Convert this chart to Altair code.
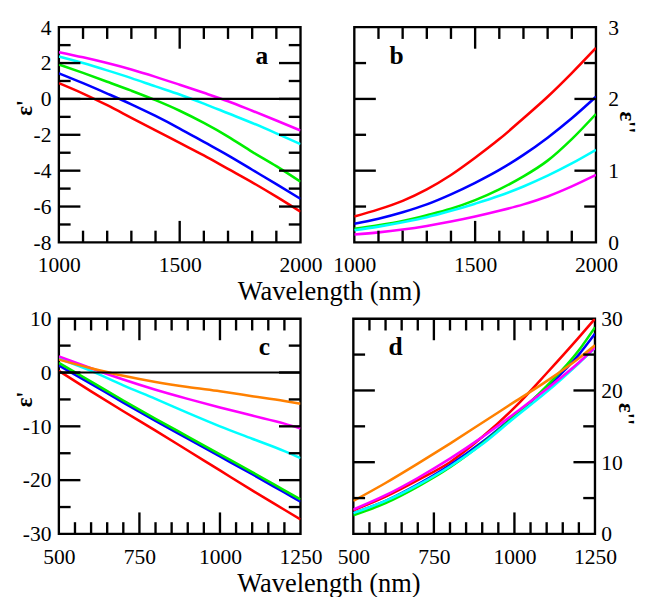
import altair as alt
import pandas as pd

FONT = "Liberation Serif"

NAMES = ["red", "blue", "green", "cyan", "magenta", "orange"]
COLORS = ["#ff0000", "#0000ff", "#00ee00", "#00ffff", "#ff00ff", "#ff8000"]

# ---- panel a : eps' , 1000-2000 nm
WL_AB = [1000, 1100, 1200, 1300, 1400, 1500, 1600, 1700, 1800, 1900, 2000]
A_RED = [0.88, 0.30, -0.35, -1.05, -1.75, -2.45, -3.15, -3.90, -4.65, -5.45, -6.29]
A_BLUE = [1.43, 0.88, 0.30, -0.30, -0.95, -1.65, -2.40, -3.15, -3.95, -4.75, -5.57]
A_GREEN = [1.92, 1.45, 0.96, 0.46, -0.07, -0.66, -1.34, -2.10, -2.95, -3.75, -4.62]
A_CYAN = [2.37, 2.00, 1.59, 1.16, 0.70, 0.25, -0.26, -0.80, -1.34, -1.92, -2.52]
A_MAGENTA = [2.61, 2.32, 2.00, 1.64, 1.23, 0.79, 0.34, -0.13, -0.66, -1.20, -1.76]

# ---- panel b : eps'' , 1000-2000 nm
B_RED = [0.36, 0.46, 0.58, 0.74, 0.94, 1.18, 1.44, 1.73, 2.03, 2.36, 2.71]
B_BLUE = [0.26, 0.33, 0.42, 0.53, 0.67, 0.83, 1.01, 1.22, 1.46, 1.73, 2.03]
B_GREEN = [0.19, 0.24, 0.30, 0.38, 0.47, 0.59, 0.74, 0.92, 1.14, 1.44, 1.79]
B_CYAN = [0.17, 0.22, 0.28, 0.35, 0.44, 0.54, 0.65, 0.78, 0.93, 1.10, 1.29]
B_MAGENTA = [0.11, 0.14, 0.18, 0.23, 0.29, 0.36, 0.44, 0.53, 0.64, 0.78, 0.94]

# ---- panel c : eps' , 500-1250 nm
WL_CD = [500, 600, 700, 800, 900, 1000, 1100, 1200, 1250]
C_RED = [0.3, -3.5, -7.2, -10.8, -14.5, -18.2, -21.9, -25.5, -27.3]
C_BLUE = [1.3, -2.1, -5.6, -9.0, -12.3, -15.6, -18.9, -22.3, -24.0]
C_GREEN = [1.8, -1.7, -5.2, -8.6, -11.9, -15.2, -18.5, -21.9, -23.6]
C_CYAN = [2.6, 0.3, -2.4, -4.9, -7.5, -10.0, -12.3, -14.6, -15.9]
C_MAGENTA = [3.0, 0.8, -1.3, -3.2, -4.9, -6.5, -8.0, -9.5, -10.4]
C_ORANGE = [2.4, 0.8, -0.6, -1.75, -2.7, -3.5, -4.4, -5.3, -5.8]

# ---- panel d : eps'' , 500-1250 nm
D_RED = [3.3, 5.2, 7.5, 10.0, 13.5, 17.6, 22.4, 27.4, 30.0]
D_BLUE = [2.9, 4.6, 6.9, 9.6, 12.8, 16.5, 20.4, 25.0, 27.9]
D_GREEN = [2.6, 4.3, 6.6, 9.3, 12.6, 16.4, 20.6, 25.6, 28.8]
D_CYAN = [2.9, 4.6, 6.8, 9.4, 12.5, 16.2, 19.8, 23.8, 25.9]
D_MAGENTA = [3.4, 5.4, 7.8, 10.5, 13.5, 16.8, 20.2, 23.9, 26.0]
D_ORANGE = [4.6, 7.1, 9.8, 12.6, 15.5, 18.4, 21.3, 24.5, 26.3]

# tick values
AB_X_LABELS = [1000, 1500, 2000]
AB_X_MAJOR = [1500]
AB_X_MINOR = [1100, 1200, 1300, 1400, 1600, 1700, 1800, 1900]
CD_X_LABELS = [500, 750, 1000, 1250]
CD_X_MAJOR = [750, 1000]
CD_X_MINOR = [550, 600, 650, 700, 800, 850, 900, 950, 1050, 1100, 1150, 1200]
A_Y_LABELS = [-8, -6, -4, -2, 0, 2, 4]
A_Y_MAJOR = [-6, -4, -2, 0, 2]
A_Y_MINOR = [-7, -5, -3, -1, 1, 3]
B_Y_LABELS = [0, 1, 2, 3]
B_Y_MAJOR = [1, 2]
B_Y_MINOR = [0.5, 1.5, 2.5]
C_Y_LABELS = [-30, -20, -10, 0, 10]
C_Y_MAJOR = [-20, -10, 0]
C_Y_MINOR = [-25, -15, -5, 5]
D_Y_LABELS = [0, 10, 20, 30]
D_Y_MAJOR = [10, 20]
D_Y_MINOR = [5, 15, 25]

W, H = 247, 220
MAJ, MIN = 22, 12


def make_panel(wl, series, xdom, ydom, xlabels, xmajor, xminor, ylabels, ymajor,
               yminor, letter, letter_xy, side, ytitle, title_y, zero, ylabpad):
    rows = []
    for name, vals in series:
        for w, v in zip(wl, vals):
            rows.append({"wl": w, "val": v, "s": name})
    df = pd.DataFrame(rows)

    xs = alt.Scale(domain=xdom, nice=False, zero=False)
    ys = alt.Scale(domain=ydom, nice=False, zero=False)
    xaxis = alt.Axis(values=xlabels, title=None, ticks=False, domain=False, grid=False,
                     labelFlush=False, labelFont=FONT, labelFontSize=22, labelColor="black",
                     labelPadding=13, labelExpr="'' + datum.value")
    if side == "left":
        tx, ang = -35, -90
    else:
        tx, ang = 31, 90
    yaxis = alt.Axis(orient=side, values=ylabels, title=ytitle, ticks=False, domain=False,
                     grid=False, labelFlush=False, labelFont=FONT, labelFontSize=22,
                     labelColor="black", labelPadding=ylabpad,
                     labelExpr="'' + datum.value", titleFont=FONT, titleFontSize=23,
                     titleFontWeight="bold", titleColor="black", titleX=tx, titleY=title_y,
                     titleAngle=ang, titleBaseline="middle", titleAlign="center")
    X = alt.X("wl:Q", scale=xs, axis=xaxis)
    Y = alt.Y("val:Q", scale=ys, axis=yaxis)

    lines = alt.Chart(df).mark_line(strokeWidth=2.6, interpolate="monotone", clip=True).encode(
        x=X, y=Y,
        color=alt.Color("s:N", scale=alt.Scale(domain=NAMES, range=COLORS), legend=None),
    )
    layers = []

    def xt(vals, length):
        d = pd.DataFrame({"wl": vals})
        bot = alt.Chart(d).mark_rule(color="black", strokeWidth=2.4).encode(
            x=X, y=alt.value(H), y2=alt.value(H - length))
        top = alt.Chart(d).mark_rule(color="black", strokeWidth=2.4).encode(
            x=X, y=alt.value(0), y2=alt.value(length))
        return [bot, top]

    def yt(vals, length):
        d = pd.DataFrame({"val": vals})
        lft = alt.Chart(d).mark_rule(color="black", strokeWidth=2.4).encode(
            y=Y, x=alt.value(0), x2=alt.value(length))
        rgt = alt.Chart(d).mark_rule(color="black", strokeWidth=2.4).encode(
            y=Y, x=alt.value(W), x2=alt.value(W - length))
        return [lft, rgt]

    layers += xt(xmajor, MAJ) + xt(xminor, MIN) + yt(ymajor, MAJ) + yt(yminor, MIN)
    if zero:
        z = pd.DataFrame({"val": [0]})
        layers.append(alt.Chart(z).mark_rule(color="black", strokeWidth=2.2).encode(
            y=Y, x=alt.value(0), x2=alt.value(W)))
    t = pd.DataFrame({"wl": [letter_xy[0]], "val": [letter_xy[1]], "t": [letter]})
    layers.append(alt.Chart(t).mark_text(font=FONT, fontSize=26, fontWeight="bold",
                                         color="black", align="center", baseline="middle").encode(
        x=X, y=Y, text="t:N"))
    return alt.layer(lines, *layers).properties(width=W, height=H)


pa = make_panel(WL_AB, [("red", A_RED), ("blue", A_BLUE), ("green", A_GREEN),
                        ("cyan", A_CYAN), ("magenta", A_MAGENTA)],
                [1000, 2000], [-8, 4], AB_X_LABELS, AB_X_MAJOR, AB_X_MINOR,
                A_Y_LABELS, A_Y_MAJOR, A_Y_MINOR, "a", (1840, 2.4), "left", "ε'", 82, True, 8)
pb = make_panel(WL_AB, [("red", B_RED), ("blue", B_BLUE), ("green", B_GREEN),
                        ("cyan", B_CYAN), ("magenta", B_MAGENTA)],
                [1000, 2000], [0, 3], AB_X_LABELS, AB_X_MAJOR, AB_X_MINOR,
                B_Y_LABELS, B_Y_MAJOR, B_Y_MINOR, "b", (1175, 2.6), "right", "ε''", 97, False, 12)
pc = make_panel(WL_CD, [("red", C_RED), ("blue", C_BLUE), ("green", C_GREEN),
                        ("cyan", C_CYAN), ("magenta", C_MAGENTA), ("orange", C_ORANGE)],
                [500, 1250], [-30, 10], CD_X_LABELS, CD_X_MAJOR, CD_X_MINOR,
                C_Y_LABELS, C_Y_MAJOR, C_Y_MINOR, "c", (1138, 4.7), "left", "ε'", 82, True, 8)
pd_ = make_panel(WL_CD, [("red", D_RED), ("blue", D_BLUE), ("green", D_GREEN),
                         ("cyan", D_CYAN), ("magenta", D_MAGENTA), ("orange", D_ORANGE)],
                 [500, 1250], [0, 30], CD_X_LABELS, CD_X_MAJOR, CD_X_MINOR,
                 D_Y_LABELS, D_Y_MAJOR, D_Y_MINOR, "d", (631, 26), "right", "ε''", 97, False, 6)

title = dict(text="Wavelength (nm)", orient="bottom", anchor="middle", font=FONT,
             fontSize=27, fontWeight="normal", color="black", offset=3, dx=4)

row1 = alt.hconcat(pa, pb, spacing=55, bounds="flush", title=alt.TitleParams(**title))
row2 = alt.hconcat(pc, pd_, spacing=54, bounds="flush", title=alt.TitleParams(**title))

chart = alt.vconcat(row1, row2, spacing=0).properties(
    padding={"left": 4, "top": 0, "right": 0, "bottom": 0}
).configure(background="white", font=FONT).configure_view(
    stroke="black", strokeWidth=2.4
).configure_axis(labelFont=FONT, titleFont=FONT).configure_title(font=FONT)

chart.save("out.html", embed_options={"renderer": "svg", "actions": False})
